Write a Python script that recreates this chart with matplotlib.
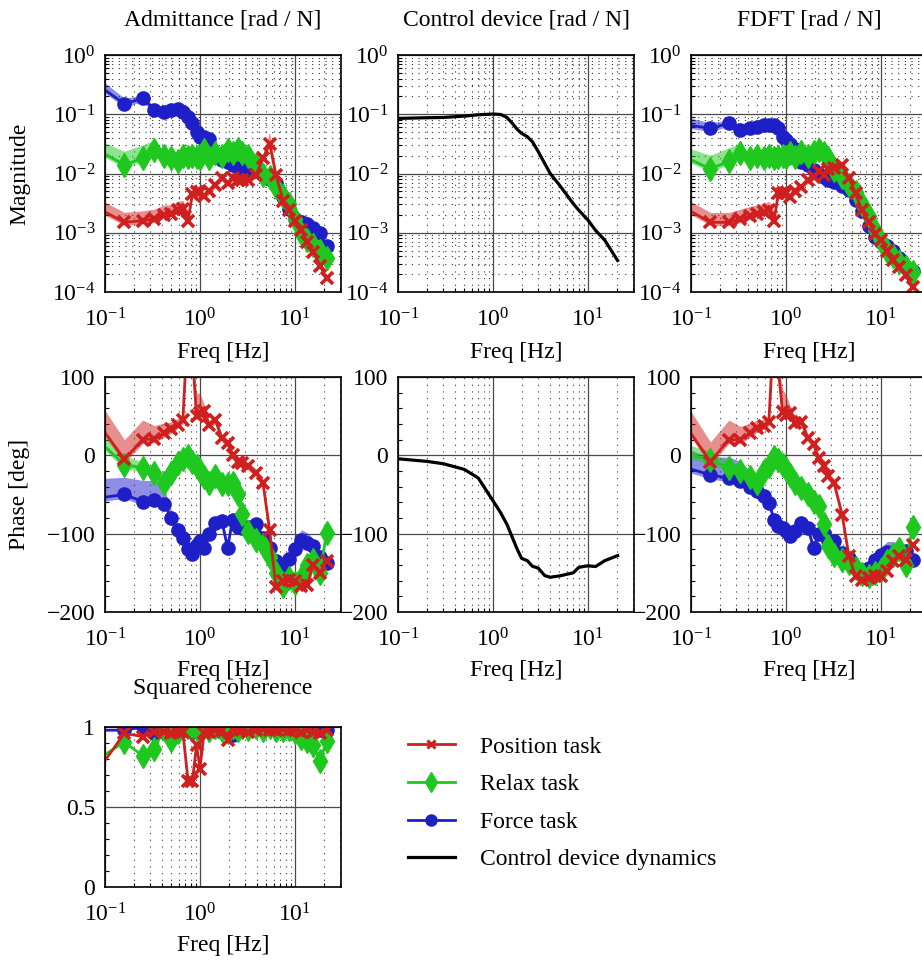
import numpy as np
import matplotlib
matplotlib.use("Agg")
import matplotlib.pyplot as plt
from matplotlib.lines import Line2D
from matplotlib.ticker import (FixedLocator, LogLocator, NullFormatter,
                               LogFormatterMathtext, MultipleLocator)

# ---------------- data ----------------
freq = [0.08, 0.16, 0.25, 0.33, 0.42, 0.5, 0.58, 0.66, 0.75, 0.83, 0.92, 1.0,
        1.1, 1.25, 1.45, 1.7, 1.95, 2.2, 2.5, 2.8, 3.2, 3.9, 4.6, 5.4, 6.3,
        7.5, 8.7, 10, 11.7, 13.5, 15.5, 18.3, 21.5]

# Admittance magnitude
adm_pos_mag = [0.0027, 0.0015, 0.0016, 0.0017, 0.0020, 0.0021, 0.0024, 0.0025, 0.0016, 0.0045,
               0.0048, 0.0049, 0.0042, 0.0050, 0.0065, 0.0085, 0.0068, 0.0083, 0.0078, 0.0078,
               0.0079, 0.0095, 0.018, 0.032, 0.0095, 0.0035, 0.0024, 0.0016, 0.0011, 0.0007,
               0.00048, 0.00028, 0.00017]
adm_relax_mag = [0.026, 0.014, 0.018, 0.025, 0.020, 0.018, 0.016, 0.020, 0.019, 0.020,
                 0.019, 0.018, 0.025, 0.018, 0.022, 0.020, 0.025, 0.022, 0.026, 0.022,
                 0.020, 0.0138, 0.0093, 0.0088, 0.006, 0.0042, 0.003, 0.0017, 0.001, 0.00075,
                 0.00062, 0.0005, 0.00037]
adm_force_mag = [0.33, 0.15, 0.185, 0.12, 0.11, 0.12, 0.125, 0.11, 0.09, 0.07,
                 0.05, 0.042, 0.041, 0.038, 0.019, 0.017, 0.0155, 0.014, 0.013, 0.012,
                 0.0105, 0.011, 0.0095, 0.008, 0.0068, 0.004, 0.0025, 0.0017, 0.0015, 0.0014,
                 0.0012, 0.00098, 0.0006]

# Admittance phase [deg]
adm_pos_phase = [45, -5, 20, 21, 28, 33, 39, 45, 175, 130, 50, 54, 56, 39, 45, 22, 16, 1, -8, -10,
                 -14, -22, -35, -95, -168, -161, -159, -161, -167, -165, -140, -150, -135]
adm_relax_phase = [22, -12, -16, -22, -35, -22, -10, -5, -1, -8, -14, -20, -28, -35, -27, -37, -36,
                   -35, -50, -75, -98, -108, -114, -130, -150, -167, -157, -163, -157, -140, -133,
                   -150, -99]
adm_force_phase = [-55, -50, -59, -57, -62, -80, -95, -105, -120, -126, -115, -110, -118, -101, -86,
                   -84, -118, -82, -91, -93, -91, -88, -105, -118, -135, -140, -132, -120, -108,
                   -112, -116, -130, -138]

# FDFT magnitude
fdft_pos_mag = [0.0028, 0.0015, 0.0015, 0.0017, 0.0019, 0.0021, 0.0022, 0.0024, 0.0016, 0.0046,
                0.0046, 0.0046, 0.0040, 0.0050, 0.0059, 0.0077, 0.0088, 0.011, 0.0095, 0.012,
                0.0125, 0.0138, 0.0085, 0.0046, 0.0024, 0.0015, 0.00097, 0.00075, 0.0005, 0.00035,
                0.00026, 0.00019, 0.00012]
fdft_relax_mag = [0.020, 0.012, 0.016, 0.022, 0.018, 0.020, 0.018, 0.020, 0.018, 0.019,
                  0.020, 0.019, 0.022, 0.019, 0.023, 0.020, 0.023, 0.025, 0.022, 0.018,
                  0.0114, 0.0088, 0.0063, 0.0049, 0.0031, 0.0019, 0.0011, 0.00072, 0.0005, 0.0004,
                  0.00032, 0.00026, 0.00022]
fdft_force_mag = [0.068, 0.058, 0.07, 0.054, 0.058, 0.061, 0.065, 0.065, 0.065, 0.058,
                  0.042, 0.037, 0.032, 0.026, 0.0158, 0.0138, 0.0114, 0.010, 0.0088, 0.0078,
                  0.0072, 0.0062, 0.0052, 0.0036, 0.0023, 0.0013, 0.00085, 0.0007, 0.0006, 0.0005,
                  0.00037, 0.00026, 0.00023]

# FDFT phase [deg]
fdft_pos_phase = [45, -8, 20, 20, 28, 35, 38, 43, 170, 110, 55, 52, 54, 41, 43, 22, 14, -3, -14,
                  -27, -35, -76, -129, -154, -159, -157, -154, -154, -148, -135, -129, -133, -114]
fdft_relax_phase = [3, -6, -16, -20, -28, -35, -20, -14, -2, -6, -12, -18, -25, -35, -42, -50, -59,
                    -65, -88, -116, -127, -133, -137, -144, -152, -154, -150, -146, -135, -127,
                    -120, -140, -91]
fdft_force_phase = [-14, -25, -29, -33, -40, -45, -52, -61, -82, -90, -93, -97, -103, -97, -86, -93,
                    -118, -101, -99, -110, -110, -125, -131, -144, -146, -144, -133, -127, -123,
                    -123, -123, -122, -133]

# Uncertainty band (upper extent) per task
pos_mag_band = [1.3, 1.3, 1.3, 1.3, 1.3, 1.25, 1.25, 1.25, 1.3, 1.2, 1.15, 1.1, 1, 1, 1, 1, 1,
                1, 1, 1, 1, 1, 1, 1.4, 1, 1, 1, 1, 1, 1, 1, 1, 1]
relax_mag_band = [1.3, 1.5, 1.5, 1.3, 1, 1, 1, 1, 1, 1, 1, 1, 1, 1, 1, 1, 1, 1, 1, 1, 1, 1, 1,
                  1, 1, 1, 1, 1, 1, 1, 1, 1, 1]
force_mag_band = [1.2, 1.1, 1, 1, 1, 1, 1, 1, 1, 1, 1, 1, 1, 1, 1, 1, 1, 1, 1, 1, 1, 1, 1, 1, 1,
                  1, 1, 1, 1.2, 1.2, 1.1, 1, 1]
pos_phase_band = [25, 20, 20, 12, 8, 5, 3, 0, 0, 0, 25, 20, 5, 0, 0, 0, 0, 0, 0, 0, 0, 0, 0, 0,
                  0, 0, 0, 0, 0, 0, 0, 0, 0]
relax_phase_band = [8, 6, 3, 0, 0, 0, 0, 0, 0, 0, 0, 0, 0, 0, 0, 0, 0, 0, 0, 0, 0, 0, 0, 0, 0,
                    0, 0, 0, 0, 0, 8, 5, 0]
force_phase_band = [20, 17, 22, 20, 15, 5, 0, 0, 0, 0, 0, 0, 0, 0, 0, 0, 0, 0, 0, 0, 0, 0, 0, 0,
                    0, 0, 0, 5, 8, 8, 5, 0, 0]

# Squared coherence
coh_pos = [0.71, 0.96, 0.94, 0.97, 0.97, 0.96, 0.97, 0.97, 0.66, 0.66, 0.885, 0.74, 0.96, 0.97,
           0.98, 0.98, 0.92, 0.99, 0.98, 0.98, 0.97, 0.98, 0.99, 0.98, 0.98, 0.99, 0.98, 0.98,
           0.97, 0.98, 0.97, 0.96, 0.98]
coh_relax = [0.79, 0.906, 0.82, 0.86, 0.99, 0.92, 0.97, 1.0, 1.0, 1.0, 0.99, 1.0, 1.0, 0.98, 1.0,
             0.98, 0.97, 1.0, 0.98, 1.0, 0.99, 1.0, 0.98, 1.0, 0.98, 0.98, 0.99, 0.97, 0.93, 0.91,
             0.89, 0.79, 0.91]
coh_force = [0.98, 0.98, 1.0, 0.96, 0.97, 0.96, 1.0, 0.98, 0.98, 0.97, 0.99, 0.98, 0.99, 0.98,
             0.99, 0.97, 0.96, 0.95, 0.98, 0.99, 0.99, 1.0, 0.99, 1.0, 0.99, 0.99, 0.99, 1.0, 0.99,
             0.99, 0.99, 0.98, 0.98]

# Control device dynamics
ctrl_freq = [0.1, 0.2, 0.3, 0.5, 0.7, 1.0, 1.2, 1.4, 1.6, 1.8, 2.0, 2.3, 2.6, 3.0, 3.5, 4.0,
             5.0, 7.0, 8.0, 10, 12, 15, 20.5]
ctrl_mag = [0.0851, 0.0873, 0.0883, 0.0931, 0.098, 0.1007, 0.0993, 0.0883, 0.070, 0.0555,
            0.0476, 0.0418, 0.0344, 0.0233, 0.0148, 0.0100, 0.0064, 0.0031, 0.0024, 0.00163,
            0.0011, 0.00075, 0.00034]
ctrl_phase = [-4.4, -7.7, -10.7, -18, -29, -58, -73, -88, -105, -120, -131.5, -134.5, -141.6,
              -144, -153.5, -155.6, -154, -150, -143, -141, -142, -134.5, -128]

labels = ["Position task", "Relax task", "Force task", "Control device dynamics"]

# ---------------- style ----------------
plt.rcParams['font.family'] = ['Liberation Serif', 'DejaVu Serif']
plt.rcParams['mathtext.fontset'] = 'custom'
plt.rcParams['mathtext.rm'] = 'Liberation Serif'
plt.rcParams['mathtext.it'] = 'Liberation Serif:italic'
plt.rcParams['font.size'] = 17

RED, GREEN, BLUE = '#d01f1f', '#1fc81f', '#1f1fc8'
FS = 17

fig = plt.figure(figsize=(9.22, 9.6), dpi=100)
W, H = 922.0, 960.0
colx = [105, 398, 691]
aw = 236


def make_ax(left_px, top_px, bottom_px):
    return fig.add_axes([left_px / W, 1 - bottom_px / H, aw / W, (bottom_px - top_px) / H])


def style(ax, ymajor_minor_grid=False):
    ax.set_xscale('log')
    ax.set_xlim(0.1, 30.5)
    ax.xaxis.set_major_locator(FixedLocator([0.1, 1, 10]))
    ax.xaxis.set_major_formatter(LogFormatterMathtext())
    ax.xaxis.set_minor_locator(LogLocator(base=10, subs=np.arange(2, 10), numticks=30))
    ax.xaxis.set_minor_formatter(NullFormatter())
    ax.grid(True, which='major', color='#4a4a4a', lw=0.9, ls='-')
    ax.grid(True, which='minor', axis='x', color='#333333', lw=0.8, ls=(0, (1, 5)))
    if ymajor_minor_grid:
        ax.grid(True, which='minor', axis='y', color='#333333', lw=0.8, ls=(0, (1, 5)))
    ax.tick_params(which='both', direction='in', top=False, right=False)
    ax.tick_params(which='major', length=0, labelsize=FS)
    ax.tick_params(axis='x', which='major', pad=12)
    ax.tick_params(axis='y', which='major', pad=7)
    ax.tick_params(which='minor', length=3, width=0.8)
    for s in ax.spines.values():
        s.set_linewidth(1.2)
    ax.set_axisbelow(True)


def style_mag(ax):
    ax.set_yscale('log')
    ax.set_ylim(1e-4, 1)
    ax.yaxis.set_major_locator(FixedLocator([1e-4, 1e-3, 1e-2, 1e-1, 1]))
    ax.yaxis.set_major_formatter(LogFormatterMathtext())
    ax.yaxis.set_minor_locator(LogLocator(base=10, subs=np.arange(2, 10), numticks=30))
    ax.yaxis.set_minor_formatter(NullFormatter())
    style(ax, ymajor_minor_grid=True)


def style_phase(ax):
    ax.set_ylim(-200, 100)
    ax.set_yticks([-200, -100, 0, 100])
    ax.yaxis.set_minor_locator(MultipleLocator(20))
    style(ax)


def plot_series(ax, y, band, color, marker, ms, mew, kind):
    y = np.asarray(y, float)
    band = np.asarray(band, float)
    if kind == 'mag':
        lo = y / 1.13
        hi = y * 1.13 * band
    else:
        lo = y - 5
        hi = y + 5 + band
    ax.fill_between(freq, lo, hi, color=color, alpha=0.5, lw=0)
    ax.plot(freq, y, color=color, lw=2.0, marker=marker, ms=ms, mew=mew,
            mec=color, mfc=color)


def plot_trio(ax, pos, relax, force, kind):
    if kind == 'mag':
        bands = (pos_mag_band, relax_mag_band, force_mag_band)
    else:
        bands = (pos_phase_band, relax_phase_band, force_phase_band)
    plot_series(ax, force, bands[2], BLUE, 'o', 9.5, 1, kind)
    plot_series(ax, relax, bands[1], GREEN, 'd', 12.5, 1, kind)
    plot_series(ax, pos, bands[0], RED, 'x', 9, 2.6, kind)


def xlabel(ax, frac):
    ax.set_xlabel('Freq [Hz]', fontsize=FS)
    ax.xaxis.set_label_coords(0.5, frac)


def ylabel(ax, text):
    ax.set_ylabel(text, fontsize=FS)
    ax.yaxis.set_label_coords(-0.318, 0.5)


# Row 1: magnitude
ax1 = make_ax(colx[0], 55, 292)
style_mag(ax1)
plot_trio(ax1, adm_pos_mag, adm_relax_mag, adm_force_mag, 'mag')
ax1.set_title('Admittance [rad / N]', fontsize=FS, pad=21)
ylabel(ax1, 'Magnitude')
xlabel(ax1, -0.21)

ax2 = make_ax(colx[1], 55, 292)
style_mag(ax2)
ax2.plot(ctrl_freq, ctrl_mag, color='black', lw=2.3)
ax2.set_title('Control device [rad / N]', fontsize=FS, pad=21)
xlabel(ax2, -0.21)

ax3 = make_ax(colx[2], 55, 292)
style_mag(ax3)
plot_trio(ax3, fdft_pos_mag, fdft_relax_mag, fdft_force_mag, 'mag')
ax3.set_title('FDFT [rad / N]', fontsize=FS, pad=21)
xlabel(ax3, -0.21)

# Row 2: phase
ax4 = make_ax(colx[0], 377, 612)
style_phase(ax4)
plot_trio(ax4, adm_pos_phase, adm_relax_phase, adm_force_phase, 'phase')
ylabel(ax4, 'Phase [deg]')
xlabel(ax4, -0.204)

ax5 = make_ax(colx[1], 377, 612)
style_phase(ax5)
ax5.plot(ctrl_freq, ctrl_phase, color='black', lw=2.3)
xlabel(ax5, -0.204)

ax6 = make_ax(colx[2], 377, 612)
style_phase(ax6)
plot_trio(ax6, fdft_pos_phase, fdft_relax_phase, fdft_force_phase, 'phase')
xlabel(ax6, -0.204)

# Row 3: coherence
ax7 = make_ax(colx[0], 727, 887)
ax7.set_ylim(0, 1.0)
ax7.set_yticks([0, 0.5, 1])
ax7.set_yticklabels(['0', '0.5', '1'])
ax7.yaxis.set_minor_locator(MultipleLocator(0.1))
style(ax7)
ax7.plot(freq, coh_force, color=BLUE, lw=2.0, marker='o', ms=9.5)
ax7.plot(freq, coh_relax, color=GREEN, lw=2.0, marker='d', ms=12.5)
ax7.plot(freq, coh_pos, color=RED, lw=2.0, marker='x', ms=9, mew=2.6)
ax7.set_title('Squared coherence', fontsize=FS, pad=24)
xlabel(ax7, -0.30)

# Legend
handles = [
    Line2D([], [], color=RED, lw=2.0, marker='x', ms=6, mew=2.2),
    Line2D([], [], color=GREEN, lw=2.0, marker='d', ms=10),
    Line2D([], [], color=BLUE, lw=2.0, marker='o', ms=8),
    Line2D([], [], color='black', lw=2.3),
]
fig.legend(handles, labels, loc='upper left', bbox_to_anchor=(0.432, 0.243),
           frameon=False, fontsize=FS, handlelength=2.0, handletextpad=1.05,
           labelspacing=0.68, numpoints=1, borderaxespad=0)

fig.savefig('out.png', dpi=100)
